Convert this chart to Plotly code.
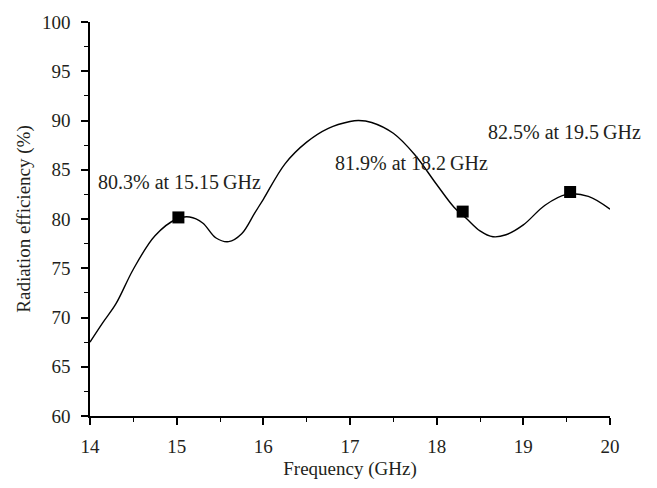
import plotly.graph_objects as go

freq = [14.0, 14.15, 14.3, 14.5, 14.75, 15.0, 15.15, 15.3, 15.45, 15.6, 15.75, 15.9, 16.0, 16.25,
        16.5, 16.75, 17.0, 17.1, 17.25, 17.5, 17.75, 18.0, 18.2, 18.35, 18.5, 18.65, 18.8, 19.0,
        19.25, 19.5, 19.75, 20.0]
eff = [67.5, 69.5, 71.4, 74.9, 78.3, 80.0, 80.2, 79.6, 78.1, 77.7, 78.5, 80.6, 82.0, 85.6,
       87.8, 89.2, 89.9, 90.0, 89.8, 88.7, 86.5, 83.5, 81.2, 80.0, 78.8, 78.2, 78.4, 79.4,
       81.4, 82.5, 82.3, 81.0]

mark_x = [15.02, 18.30, 19.54]
mark_y = [80.16, 80.75, 82.74]

ann_text = ["80.3% at 15.15\u2009GHz", "81.9% at 18.2\u2009GHz", "82.5% at 19.5\u2009GHz"]
ann_x = [14.07, 16.80, 18.57]
ann_y = [83.8, 85.7, 88.8]

FONT = "Liberation Serif"
TXT = "#231f20"

fig = go.Figure()
fig.add_trace(go.Scatter(x=freq, y=eff, mode="lines",
                         line=dict(color="black", width=1.4, shape="spline", smoothing=1.0),
                         showlegend=False, hoverinfo="skip"))
fig.add_trace(go.Scatter(x=mark_x, y=mark_y, mode="markers",
                         marker=dict(symbol="square", size=12, color="black"),
                         showlegend=False))

for t, x, y in zip(ann_text, ann_x, ann_y):
    fig.add_annotation(x=x, y=y, text=t, showarrow=False, xanchor="left", yanchor="middle",
                       font=dict(family=FONT, size=20, color=TXT))

axis_common = dict(showgrid=False, zeroline=False, showline=True, linecolor="black", linewidth=1.5,
                   ticks="outside", ticklen=7, tickwidth=1.5, tickcolor="black",
                   tickfont=dict(family=FONT, size=19, color=TXT),
                   mirror=False)

fig.update_xaxes(range=[14, 20], dtick=1, tick0=14, ticklabelstandoff=5,
                 minor=dict(ticks="outside", ticklen=4, tickwidth=1.2, tickcolor="black", dtick=0.5),
                 title=dict(text="Frequency (GHz)", font=dict(family=FONT, size=19, color=TXT),
                            standoff=6),
                 **axis_common)
fig.update_yaxes(range=[60, 100], dtick=5, tick0=60, ticklabelstandoff=7,
                 minor=dict(ticks="outside", ticklen=4, tickwidth=1.2, tickcolor="black", dtick=2.5),
                 title=dict(text="Radiation efficiency (%)", font=dict(family=FONT, size=19, color=TXT),
                            standoff=6),
                 **axis_common)

fig.update_layout(width=657, height=488, margin=dict(l=90, r=47, t=19, b=67),
                  plot_bgcolor="white", paper_bgcolor="white")

fig.write_html("out.html")
